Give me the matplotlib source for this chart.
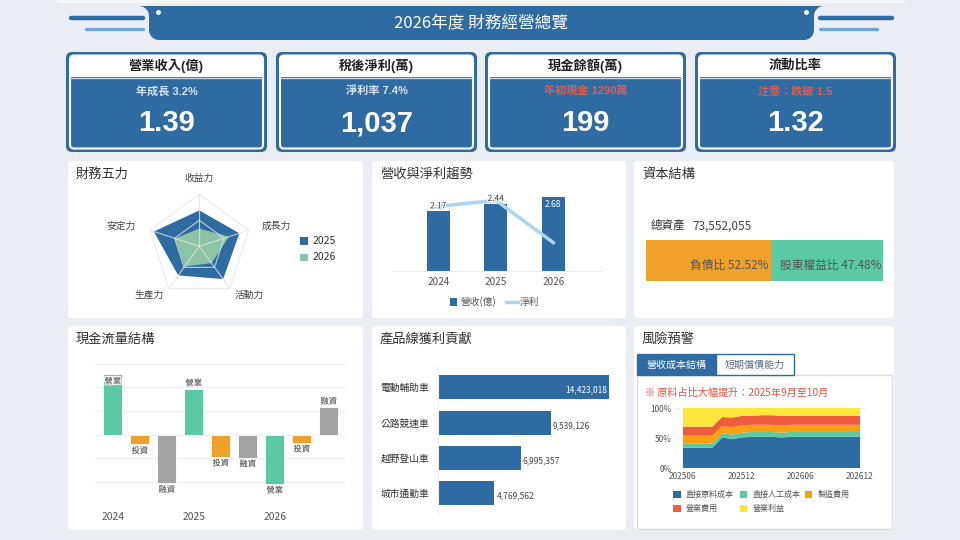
import numpy as np
import matplotlib
matplotlib.use('Agg')
import matplotlib.pyplot as plt
import matplotlib.patheffects as pe
from matplotlib.patches import FancyBboxPatch, Rectangle, Polygon

plt.rcParams['font.family'] = ['Noto Sans CJK TC', 'DejaVu Sans']

# ---- data ----
kpi_titles = ['營業收入(億)', '稅後淨利(萬)', '現金餘額(萬)', '流動比率']
kpi_subs = ['年成長 3.2%', '淨利率 7.4%', '年初現金 1290萬', '注意：跌破 1.5']
kpi_values = ['1.39', '1,037', '199', '1.32']
kpi_alert = [False, False, True, True]

radar_axes = ['收益力', '成長力', '活動力', '生產力', '安定力']
radar_2025 = [69, 81, 78, 69, 92]
radar_2026 = [34, 60, 40, 48, 49]

trend_years = ['2024', '2025', '2026']
revenue = [2.17, 2.44, 2.68]
net_profit = [2355, 2572, 1037]

total_assets = 73552055
debt_ratio = 52.52
equity_ratio = 47.48

cf_years = ['2024', '2025', '2026']
cf_types = ['營業', '投資', '融資']
cf_values = [2.55, -0.42, -2.07, 1.92, -0.95, -0.98, -2.10, -0.35, 1.15]

products = ['電動輔助車', '公路競速車', '越野登山車', '城市通勤車']
product_profit = [14423018, 9539126, 6995357, 4769562]

months = ['202506', '202507', '202508', '202509', '202510', '202511', '202512',
          '202601', '202602', '202603', '202604', '202605', '202606',
          '202607', '202608', '202609', '202610', '202611', '202612']
raw_mat = [34, 34, 34, 34, 51, 48, 51, 52, 52, 52, 51, 52, 52, 52, 52, 52, 52, 52, 52]
labor = [7, 7, 7, 7, 7, 8, 8, 8, 8, 8, 8, 8, 8, 8, 8, 8, 8, 8, 8]
overhead = [13, 13, 13, 13, 12, 12, 12, 12, 12, 12, 12, 12, 12, 12, 12, 12, 12, 12, 12]
opex = [15, 15, 15, 15, 15, 16, 16, 15, 16, 16, 16, 15, 15, 15, 15, 15, 15, 15, 15]
op_profit = [31, 31, 31, 31, 15, 16, 13, 13, 12, 12, 13, 13, 13, 13, 13, 13, 13, 13, 13]
cost_names = ['直接原料成本', '直接人工成本', '製造費用', '營業費用', '營業利益']

# ---- colours ----
BG = '#EAEEF4'
BLUE = '#2E6BA3'
LIGHT_BLUE = '#A9D6F5'
RADAR_GREEN = '#8CC5A6'
TEAL = '#5CC9A5'
ORANGE = '#F0A12B'
GRAY = '#A3A3A3'
RED_TXT = '#E15B4F'
stack_colors = [BLUE, TEAL, '#FF9F10', '#EE5B3D', '#FFE63B']
cf_colors = {'營業': TEAL, '投資': ORANGE, '融資': GRAY}

W, H = 960, 540
fig = plt.figure(figsize=(9.6, 5.4), dpi=100, facecolor=BG)

bg = fig.add_axes([0, 0, 1, 1])
bg.set_xlim(0, W)
bg.set_ylim(H, 0)
bg.axis('off')


def px_axes(x0, y0, x1, y1, **kw):
    return fig.add_axes([x0 / W, 1 - y1 / H, (x1 - x0) / W, (y1 - y0) / H], **kw)


def arc(cx, cy, r, a0, a1, n=12):
    t = np.radians(np.linspace(a0, a1, n))
    return list(zip(cx + r * np.cos(t), cy + r * np.sin(t)))


# ---- header ----
bg.add_patch(Rectangle((57, 0), 848, 2.5, fc='#F5F7FA', ec='none'))
pts = arc(824, 16, 10, -90, -180) + arc(804, 30, 10, 0, 90) + \
    arc(159, 30, 10, 90, 180) + arc(139, 16, 10, 0, -90)
bg.add_patch(Polygon(pts, closed=True, fc=BLUE, ec='none'))
bg.scatter([158, 806], [12, 12], s=6, color='white', zorder=3)
bg.plot([71, 143], [18, 18], color=BLUE, lw=3.2, solid_capstyle='round')
bg.plot([86, 143], [28.5, 28.5], color='#6FA6D8', lw=2.4, solid_capstyle='round')
bg.plot([820, 892], [18, 18], color=BLUE, lw=3.2, solid_capstyle='round')
bg.plot([820, 877], [28.5, 28.5], color='#6FA6D8', lw=2.4, solid_capstyle='round')
bg.text(481, 23, '2026年度 財務經營總覽', color='white', fontsize=12,
        ha='center', va='center')

# ---- KPI cards ----
card_x = [66, 276, 485, 695]
for x0, title, sub, val, alert in zip(card_x, kpi_titles, kpi_subs, kpi_values, kpi_alert):
    bg.add_patch(FancyBboxPatch((x0, 52), 201, 100, boxstyle='round,pad=0,rounding_size=6',
                                fc=BLUE, ec='none'))
    bg.add_patch(FancyBboxPatch((x0 + 4, 55.5), 193, 93, boxstyle='round,pad=0,rounding_size=4',
                                fc=BLUE, ec='white', lw=1.5))
    bg.add_patch(FancyBboxPatch((x0 + 4.5, 56), 192, 21, boxstyle='round,pad=0,rounding_size=3',
                                fc='white', ec='none'))
    bg.add_patch(Rectangle((x0 + 4.5, 66), 192, 11, fc='white', ec='none'))
    bg.plot([x0 + 4.5, x0 + 196.5], [77.5, 77.5], color='#C9D5E3', lw=1)
    cx = x0 + 100.5
    bg.text(cx, 65.5, title, ha='center', va='center', fontsize=9.5, fontweight='bold',
            color='#222222', family=['Liberation Sans', 'Noto Sans CJK TC'])
    bg.text(cx, 91, sub, ha='center', va='center', fontsize=8, fontweight='bold',
            color=RED_TXT if alert else '#D6E3F1', family=['Liberation Sans', 'Noto Sans CJK TC'])
    bg.text(cx, 123, val, ha='center', va='center', fontsize=21, fontweight='bold',
            color='white', family=['Liberation Sans', 'Noto Sans CJK TC'])

# ---- panels ----
cols = [(68, 363), (372, 626), (634, 894)]
rows = [(161, 318), (326, 530)]
titles = [['財務五力', '營收與淨利趨勢', '資本結構'], ['現金流量結構', '產品線獲利貢獻', '風險預警']]
for r, (y0, y1) in enumerate(rows):
    for c, (x0, x1) in enumerate(cols):
        bg.add_patch(FancyBboxPatch((x0, y0), x1 - x0, y1 - y0,
                                    boxstyle='round,pad=0,rounding_size=3', fc='white', ec='none'))
        bg.text(x0 + 8, y0 + 13.5, titles[r][c], ha='left', va='center', fontsize=9.5,
                color='#333333', fontweight='medium')

# ---- radar ----
rc = (199.3, 246.3)
rad = 52
ax = px_axes(rc[0] - rad, rc[1] - rad, rc[0] + rad, rc[1] + rad, projection='polar')
ax.set_facecolor('none')
ax.set_theta_offset(np.pi / 2)
ax.set_theta_direction(-1)
ax.set_ylim(0, 100)
ax.set_xticks([])
ax.set_yticks([])
ax.grid(False)
ax.spines['polar'].set_visible(False)
ang = np.linspace(0, 2 * np.pi, len(radar_axes), endpoint=False)
ang_c = np.append(ang, ang[0])
ax.fill(ang_c, radar_2025 + radar_2025[:1], color=BLUE, lw=0, zorder=2)
ax.fill(ang_c, radar_2026 + radar_2026[:1], color=RADAR_GREEN, lw=0, zorder=3)
for lvl in (50, 100):
    ax.plot(ang_c, [lvl] * len(ang_c), color='#E4E4E4', lw=0.8, alpha=0.8, zorder=4)
for a in ang:
    ax.plot([a, a], [0, 100], color='#E4E4E4', lw=0.8, alpha=0.8, zorder=4)
label_pos = [(131, 'center'), (127, 'left'), (115, 'left'), (115, 'right'), (128, 'right')]
for a, name, (r, ha) in zip(ang, radar_axes, label_pos):
    ax.text(a, r, name, ha=ha, va='center', fontsize=7, color='#444444')
bg.add_patch(Rectangle((300, 237.3), 7.7, 7.3, fc=BLUE, ec='none'))
bg.text(312.3, 241, '2025', ha='left', va='center', fontsize=7.5, color='#333333')
bg.add_patch(Rectangle((300, 253.7), 7.7, 7.3, fc=RADAR_GREEN, ec='none'))
bg.text(312.3, 257.3, '2026', ha='left', va='center', fontsize=7.5, color='#333333')

# ---- revenue / profit trend ----
ax = px_axes(391.7, 188.5, 601.7, 271.3)
ax.set_facecolor('none')
xt = np.arange(len(trend_years))
ax.bar(xt, revenue, width=0.405, color=BLUE, zorder=2)
ax.set_xlim(-0.81, 2.84)
ax.set_ylim(0, 3)
ax.set_xticks(xt)
ax.set_xticklabels(trend_years, fontsize=7.2, color='#555555')
ax.tick_params(length=0, pad=4)
ax.set_yticks([])
for s in ['top', 'right', 'left']:
    ax.spines[s].set_visible(False)
ax.spines['bottom'].set_color('#EEEEEE')
ax2 = ax.twinx()
ax2.set_ylim(0, 3000)
ax2.plot(xt, net_profit, color=LIGHT_BLUE, lw=2.5, zorder=2)
ax2.axis('off')
for i, v in enumerate(revenue):
    if v == max(revenue):
        ax2.annotate(f'{v:.2f}', (i, v), xycoords=ax.transData, xytext=(0, -5),
                     textcoords='offset points', ha='center', va='center',
                     fontsize=6, color='white', zorder=5)
    else:
        ax2.annotate(f'{v:.2f}', (i, v), xycoords=ax.transData, xytext=(0, 4),
                     textcoords='offset points', ha='center', va='center',
                     fontsize=6, color='#333333', zorder=5,
                     path_effects=[pe.withStroke(linewidth=1.5, foreground='white')])
bg.add_patch(Rectangle((450, 298.3), 6.7, 7.3, fc=BLUE, ec='none'))
bg.text(461, 302, '營收(億)', ha='left', va='center', fontsize=7, color='#555555')
bg.plot([506, 518], [302.3, 302.3], color=LIGHT_BLUE, lw=2.5)
bg.text(519.5, 302, '淨利', ha='left', va='center', fontsize=7, color='#555555')

# ---- capital structure ----
ax = px_axes(646, 239.7, 883.3, 281.3)
ax.barh(0, debt_ratio, height=1, color=ORANGE)
ax.barh(0, equity_ratio, left=debt_ratio, height=1, color=TEAL)
ax.set_xlim(0, 100)
ax.set_ylim(-0.5, 0.5)
ax.axis('off')
ax.annotate(f'負債比 {debt_ratio:.2f}%', (debt_ratio, 0), xytext=(-1.5, -3.5),
            textcoords='offset points', ha='right', va='center', fontsize=8.5, color='#555555')
ax.annotate(f'股東權益比 {equity_ratio:.2f}%', (debt_ratio + equity_ratio, 0), xytext=(-1, -3.5),
            textcoords='offset points', ha='right', va='center', fontsize=8.5, color='#555555')
bg.text(650.7, 226.3, '總資產', ha='left', va='center', fontsize=8.3, color='#333333',
        fontweight='medium')
bg.text(692.5, 226.3, f'{total_assets:,}', ha='left', va='center', fontsize=8.5, color='#444444')

# ---- cash flow structure ----
ax = px_axes(95, 363.7, 346, 505.3)
ax.set_facecolor('none')
xc = np.arange(len(cf_values))
types = [cf_types[i % 3] for i in range(len(cf_values))]
ax.bar(xc, cf_values, width=0.7, color=[cf_colors[t] for t in types],
       edgecolor='white', linewidth=0.6, zorder=2)
ax.set_xlim(-0.66, 8.64)
ax.set_ylim(-3, 3)
ax.set_yticks(range(-3, 4))
ax.set_yticklabels([])
ax.yaxis.grid(True, color='#EFEFEF', lw=0.9, zorder=0)
ax.set_xticks([0, 3, 6])
ax.set_xticklabels(cf_years, fontsize=7.4, color='#555555')
ax.tick_params(length=0, pad=5)
for s in ax.spines.values():
    s.set_visible(False)
for i, (v, t) in enumerate(zip(cf_values, types)):
    if v > 2.3:
        off = -5
    elif v > 0:
        off = 4.3
    else:
        off = -4.5
    ax.annotate(t, (i, v), xytext=(0, off), textcoords='offset points', ha='center',
                va='center', fontsize=6, color='#333333', zorder=5,
                path_effects=[pe.withStroke(linewidth=1.5, foreground='white')])

# ---- product line profit ----
ax = px_axes(437.7, 365.3, 615, 515.3)
ax.set_facecolor('none')
yp = np.arange(len(products))
ax.barh(yp, product_profit, height=0.68, color=BLUE)
ax.set_xlim(0, 14.93e6)
ax.set_ylim(3.63, -0.625)
ax.set_xticks([])
ax.set_yticks(yp)
ax.set_yticklabels(products, fontsize=7, color='#333333')
ax.tick_params(length=0, pad=6)
for s in ['top', 'right', 'bottom']:
    ax.spines[s].set_visible(False)
ax.spines['left'].set_color('#EEEEEE')
for i, v in enumerate(product_profit):
    if v > 0.85 * ax.get_xlim()[1]:
        ax.annotate(f'{v:,}', (v, i), xytext=(-1.5, -2), textcoords='offset points',
                    ha='right', va='center', fontsize=6, color='white')
    else:
        ax.annotate(f'{v:,}', (v, i), xytext=(1.5, -2), textcoords='offset points',
                    ha='left', va='center', fontsize=6, color='#444444')

# ---- risk warning ----
bg.add_patch(Rectangle((636.7, 374.7), 255, 154, fc='white', ec='#DDDDDD', lw=1))
bg.add_patch(Rectangle((636.7, 354), 79.3, 20.7, fc=BLUE, ec=BLUE, lw=1))
bg.add_patch(Rectangle((716, 354), 78, 20.7, fc='white', ec=BLUE, lw=1))
bg.text(676.3, 364.5, '營收成本結構', ha='center', va='center', fontsize=7.2, color='white')
bg.text(755, 364.5, '短期償債能力', ha='center', va='center', fontsize=7.2, color='#5B6C80')
bg.text(645, 393, '※ 原料占比大幅提升：2025年9月至10月', ha='left', va='center',
        fontsize=7.3, color='#E8533D')

ax = px_axes(676, 408, 866, 468)
ax.set_facecolor('none')
xm = np.arange(len(months))
ax.stackplot(xm, raw_mat, labor, overhead, opex, op_profit, colors=stack_colors, lw=0, zorder=2)
ax.set_xlim(-0.7, 18.6)
ax.set_ylim(0, 100)
ax.set_yticks([0, 50, 100])
ax.set_yticklabels(['0%', '50%', '100%'], fontsize=6, color='#555555')
ax.set_xticks(xm[::6])
ax.set_xticklabels(months[::6], fontsize=6, color='#555555')
ax.tick_params(length=0, pad=3)
ax.yaxis.grid(True, color='#EEEEEE', lw=0.8, zorder=0)
for s in ax.spines.values():
    s.set_visible(False)

leg_x = [673.3, 740, 805]
leg_y = [494.7, 508.7]
for k, (name, col) in enumerate(zip(cost_names, stack_colors)):
    lx = leg_x[k % 3]
    ly = leg_y[k // 3]
    bg.add_patch(Rectangle((lx, ly - 3.7), 7.4, 7.4, fc=col, ec='none'))
    bg.text(lx + 12.4, ly, name, ha='left', va='center', fontsize=5.8, color='#555555')

fig.savefig('out.png', dpi=100, facecolor=BG)
